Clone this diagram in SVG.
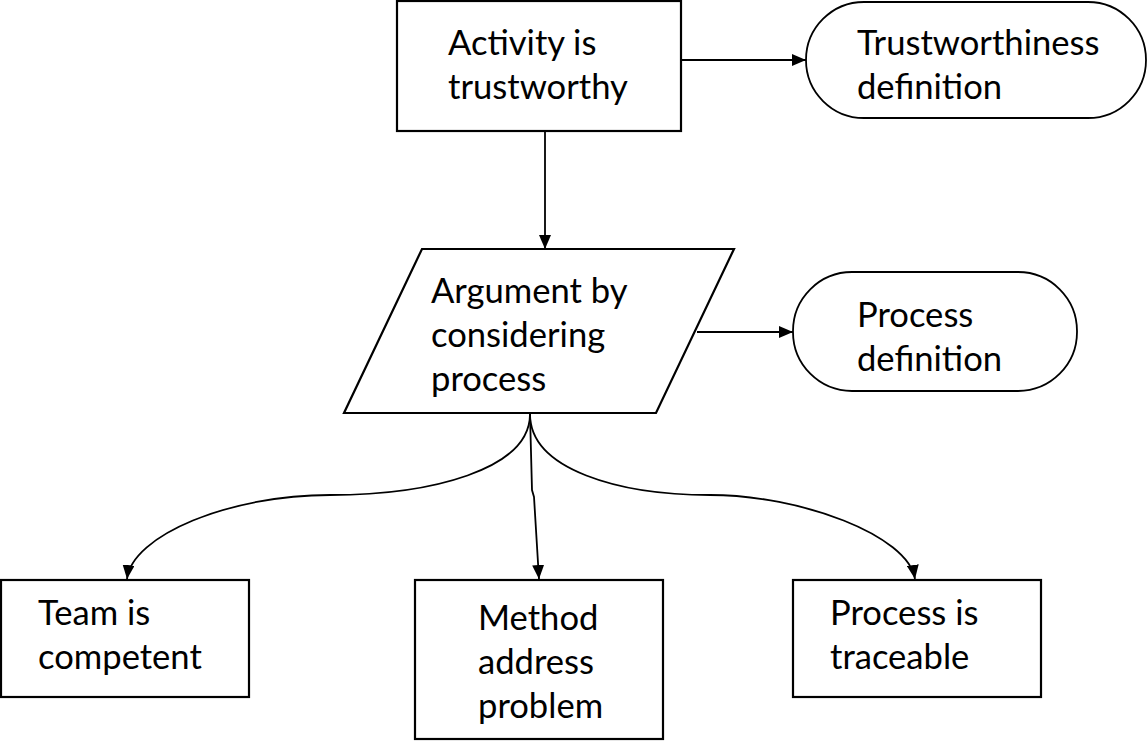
<svg xmlns="http://www.w3.org/2000/svg" width="1148" height="752" viewBox="0 0 1148 752">
<style>
  .shape { fill: #ffffff; stroke: #000000; stroke-width: 2.2; }
  .term { fill: #ffffff; stroke: #000000; stroke-width: 1.8; }
  .lbl { font-family: Lato, "Liberation Sans", sans-serif; font-size: 34.6px; fill: #000000; }
  .conn { fill: none; stroke: #000000; stroke-width: 1.8; marker-end: url(#arrow); }
</style>
<defs>
  <marker id="arrow" markerUnits="userSpaceOnUse" markerWidth="14" markerHeight="12" refX="14" refY="6" orient="auto">
    <path d="M0,0 L14,6 L0,12 z" fill="#000000"/>
  </marker>
</defs>
<rect width="1148" height="752" fill="#ffffff"/>
<g id="connectors">
  <path class="conn" d="M676,60 L806,60"/>
  <path class="conn" d="M545,131 L545,249"/>
  <path class="conn" d="M697,332 L793,332"/>
  <path class="conn" d="M530,414 C530,470 430,495 330,495 C230,495 132,535 127,579"/>
  <path class="conn" d="M530,414 C530,470 620,495 710,495 C800,495 908,535 915,579"/>
  <path class="conn" d="M530,414 L532,490 L534,497 L539,579"/>
</g>
<g id="node-activity">
  <rect class="shape" x="397" y="1" width="284" height="130"/>
  <text class="lbl" x="448" y="55">Activity is<tspan x="448" y="99">trustworthy</tspan></text>
</g>
<g id="node-trust-def">
  <rect class="term" x="806" y="2" width="340" height="116" rx="58" ry="58"/>
  <text class="lbl" x="857" y="55">Trustworthiness<tspan x="857" y="99">definition</tspan></text>
</g>
<g id="node-argument">
  <polygon class="shape" points="422,249 734,249 656,413 344,413"/>
  <text class="lbl" x="431" y="303">Argument by<tspan x="431" y="347">considering</tspan><tspan x="431" y="391">process</tspan></text>
</g>
<g id="node-process-def">
  <rect class="term" x="793" y="272" width="284" height="119" rx="59" ry="59"/>
  <text class="lbl" x="857" y="327">Process<tspan x="857" y="371">definition</tspan></text>
</g>
<g id="node-team">
  <rect class="shape" x="1" y="580" width="248" height="117"/>
  <text class="lbl" x="38" y="625">Team is<tspan x="38" y="669">competent</tspan></text>
</g>
<g id="node-method">
  <rect class="shape" x="415" y="580" width="248" height="159"/>
  <text class="lbl" x="478" y="630">Method<tspan x="478" y="674">address</tspan><tspan x="478" y="718">problem</tspan></text>
</g>
<g id="node-traceable">
  <rect class="shape" x="793" y="580" width="248" height="117"/>
  <text class="lbl" x="830" y="625">Process is<tspan x="830" y="669">traceable</tspan></text>
</g>
</svg>
